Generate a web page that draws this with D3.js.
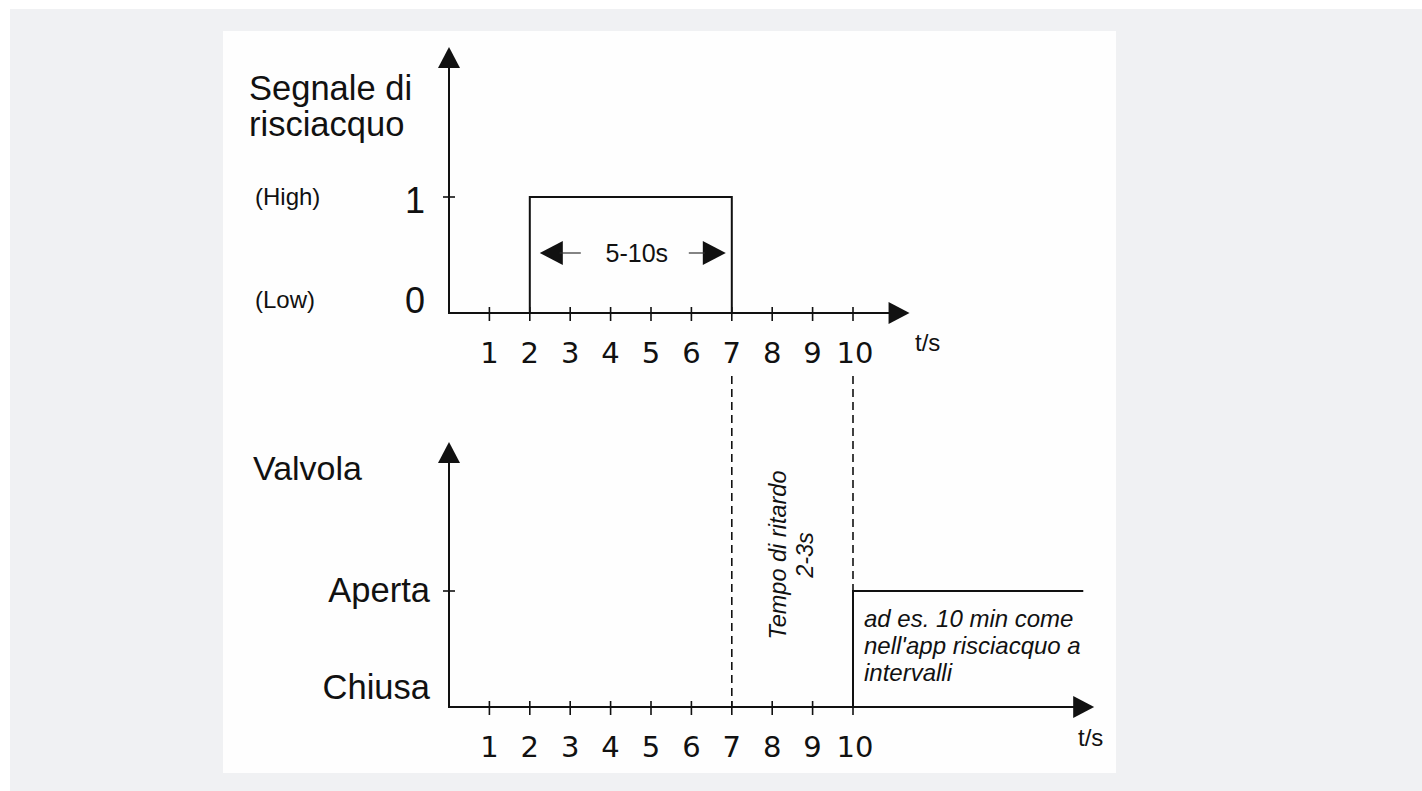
<!DOCTYPE html>
<html>
<head>
<meta charset="utf-8">
<script src="https://cdn.jsdelivr.net/npm/d3@7"></script>
<style>
  html, body { margin: 0; padding: 0; background: #ffffff; }
  svg { display: block; }
</style>
</head>
<body>
<svg id="chart" width="1422" height="791"></svg>
<script>
// ---- data ----
const tickValues = [1, 2, 3, 4, 5, 6, 7, 8, 9, 10];
const signalT = [2, 2, 7, 7];          // rinse signal pulse (t in s)
const signalV = [0, 1, 1, 0];          // 0 = Low, 1 = High
const valveT = [10, 10, 15.7];         // valve opens at t = 10 s
const valveV = [0, 1, 1];              // 0 = Chiusa, 1 = Aperta
const markerT = [7, 10];               // dashed guide lines
const topLevels = [{v: 1, num: "1", word: "(High)"}, {v: 0, num: "0", word: "(Low)"}];
const bottomLevels = [{v: 1, word: "Aperta"}, {v: 0, word: "Chiusa"}];
const topTitle = ["Segnale di", "risciacquo"];
const bottomTitle = "Valvola";
const pulseLabel = "5-10s";
const delayLabel = ["Tempo di ritardo", "2-3s"];
const noteLabel = ["ad es. 10 min come", "nell'app risciacquo a", "intervalli"];
const axisUnit = "t/s";

// ---- layout ----
const svg = d3.select("#chart");
const INK = "#111";
const SANS = "'Liberation Sans', Arial, sans-serif";
const DIGIT = "'DejaVu Sans', Verdana, sans-serif";

svg.append("rect").attr("x", 10).attr("y", 9).attr("width", 1412).attr("height", 782).attr("fill", "#f0f1f3");
svg.append("rect").attr("x", 223).attr("y", 31).attr("width", 893).attr("height", 742).attr("fill", "#fefefe");

const x = d3.scaleLinear().domain([0, 10]).range([449, 853]);
const yTop = d3.scaleLinear().domain([0, 1]).range([313, 197]);
const yBot = d3.scaleLinear().domain([0, 1]).range([707, 591]);

function arrowHead(g, tipX, tipY, dir, len, half) {
  let pts;
  if (dir === "up") pts = [[tipX, tipY], [tipX - half, tipY + len], [tipX + half, tipY + len]];
  else if (dir === "right") pts = [[tipX, tipY], [tipX - len, tipY - half], [tipX - len, tipY + half]];
  else pts = [[tipX, tipY], [tipX + len, tipY - half], [tipX + len, tipY + half]];
  g.append("path").attr("d", d3.line()(pts) + "Z").attr("fill", INK);
}

function panel(y, tMax, yTipTop) {
  const g = svg.append("g");
  const x0 = x(0), y0 = y(0);
  const xTip = x(tMax);
  // y axis
  g.append("line").attr("x1", x0).attr("x2", x0).attr("y1", y0 + 1).attr("y2", yTipTop + 18)
    .attr("stroke", INK).attr("stroke-width", 2);
  arrowHead(g, x0, yTipTop, "up", 21, 11);
  // x axis
  g.append("line").attr("x1", x0 - 1).attr("x2", xTip - 18).attr("y1", y0).attr("y2", y0)
    .attr("stroke", INK).attr("stroke-width", 2);
  arrowHead(g, xTip, y0, "right", 21, 11);
  // x ticks
  g.selectAll(".xt").data(tickValues).enter().append("line")
    .attr("x1", d => x(d)).attr("x2", d => x(d))
    .attr("y1", y0 - 6).attr("y2", y0 + 8)
    .attr("stroke", INK).attr("stroke-width", 1.6);
  g.selectAll(".xl").data(tickValues).enter().append("text")
    .attr("x", d => x(d) + (d === 10 ? 2 : 0)).attr("y", y0 + 50)
    .attr("text-anchor", "middle").attr("font-family", DIGIT).attr("font-size", 29)
    .attr("fill", INK).text(d => d);
  // y tick at level 1
  g.append("line").attr("x1", x0 - 6).attr("x2", x0 + 6).attr("y1", y(1)).attr("y2", y(1))
    .attr("stroke", INK).attr("stroke-width", 1.6);
  return g;
}

// ---- top chart ----
panel(yTop, 11.4, 47);
svg.append("text").attr("x", 915).attr("y", 351).attr("font-family", SANS).attr("font-size", 24)
  .attr("fill", INK).text(axisUnit);
topTitle.forEach((s, i) => {
  svg.append("text").attr("x", 249).attr("y", 100 + i * 36).attr("font-family", SANS)
    .attr("font-size", 34.5).attr("fill", INK).text(s);
});
topLevels.forEach(l => {
  svg.append("text").attr("x", 425).attr("y", yTop(l.v) + (l.v === 1 ? 16 : 0))
    .attr("text-anchor", "end").attr("font-family", SANS).attr("font-size", 36).attr("fill", INK).text(l.num);
  svg.append("text").attr("x", 255).attr("y", yTop(l.v) + (l.v === 1 ? 8 : -5))
    .attr("font-family", SANS).attr("font-size", 24).attr("fill", INK).text(l.word);
});
const sigLine = d3.line().x((d, i) => x(signalT[i])).y((d, i) => yTop(signalV[i]));
svg.append("path").attr("d", sigLine(signalT)).attr("fill", "none").attr("stroke", INK).attr("stroke-width", 2);

// pulse width annotation
const midY = (yTop(1) + yTop(0)) / 2 - 2;
const pg = svg.append("g");
arrowHead(pg, x(2) + 10, midY, "left", 23, 12);
pg.append("line").attr("x1", x(2) + 30).attr("x2", x(2) + 51).attr("y1", midY).attr("y2", midY)
  .attr("stroke", "#333").attr("stroke-width", 1.2);
arrowHead(pg, x(7) - 6, midY, "right", 23, 12);
pg.append("line").attr("x1", x(7) - 43).attr("x2", x(7) - 27).attr("y1", midY).attr("y2", midY)
  .attr("stroke", "#333").attr("stroke-width", 1.2);
pg.append("text").attr("x", (x(2) + x(7)) / 2 + 6).attr("y", midY + 9).attr("text-anchor", "middle")
  .attr("font-family", SANS).attr("font-size", 25).attr("fill", INK).text(pulseLabel);

// ---- bottom chart ----
panel(yBot, 15.97, 442);
svg.append("text").attr("x", 1078).attr("y", 746).attr("font-family", SANS).attr("font-size", 24)
  .attr("fill", INK).text(axisUnit);
svg.append("text").attr("x", 253).attr("y", 480).attr("font-family", SANS).attr("font-size", 34)
  .attr("fill", INK).text(bottomTitle);
bottomLevels.forEach(l => {
  svg.append("text").attr("x", 430).attr("y", yBot(l.v) + (l.v === 1 ? 11 : -8))
    .attr("text-anchor", "end").attr("font-family", SANS).attr("font-size", 34.5).attr("fill", INK).text(l.word);
});
const valveLine = d3.line().x((d, i) => x(valveT[i])).y((d, i) => yBot(valveV[i]));
svg.append("path").attr("d", valveLine(valveT)).attr("fill", "none").attr("stroke", INK).attr("stroke-width", 2);

// dashed guides
markerT.forEach(t => {
  svg.append("line").attr("x1", x(t)).attr("x2", x(t)).attr("y1", 376)
    .attr("y2", t === 10 ? yBot(1) : yBot(0))
    .attr("stroke", INK).attr("stroke-width", 1.6).attr("stroke-dasharray", "8,5");
});

// delay annotation (rotated)
const dg = svg.append("g").attr("transform", `translate(${(x(7) + x(10)) / 2 - 14},555) rotate(-90)`);
delayLabel.forEach((s, i) => {
  dg.append("text").attr("x", 0).attr("y", 8 + i * 27).attr("text-anchor", "middle")
    .attr("font-family", SANS).attr("font-style", "italic").attr("font-size", 23.5).attr("fill", INK).text(s);
});

// note
noteLabel.forEach((s, i) => {
  svg.append("text").attr("x", x(10) + 11).attr("y", 627 + i * 27)
    .attr("font-family", SANS).attr("font-style", "italic").attr("font-size", 24).attr("fill", INK).text(s);
});
</script>
</body>
</html>
